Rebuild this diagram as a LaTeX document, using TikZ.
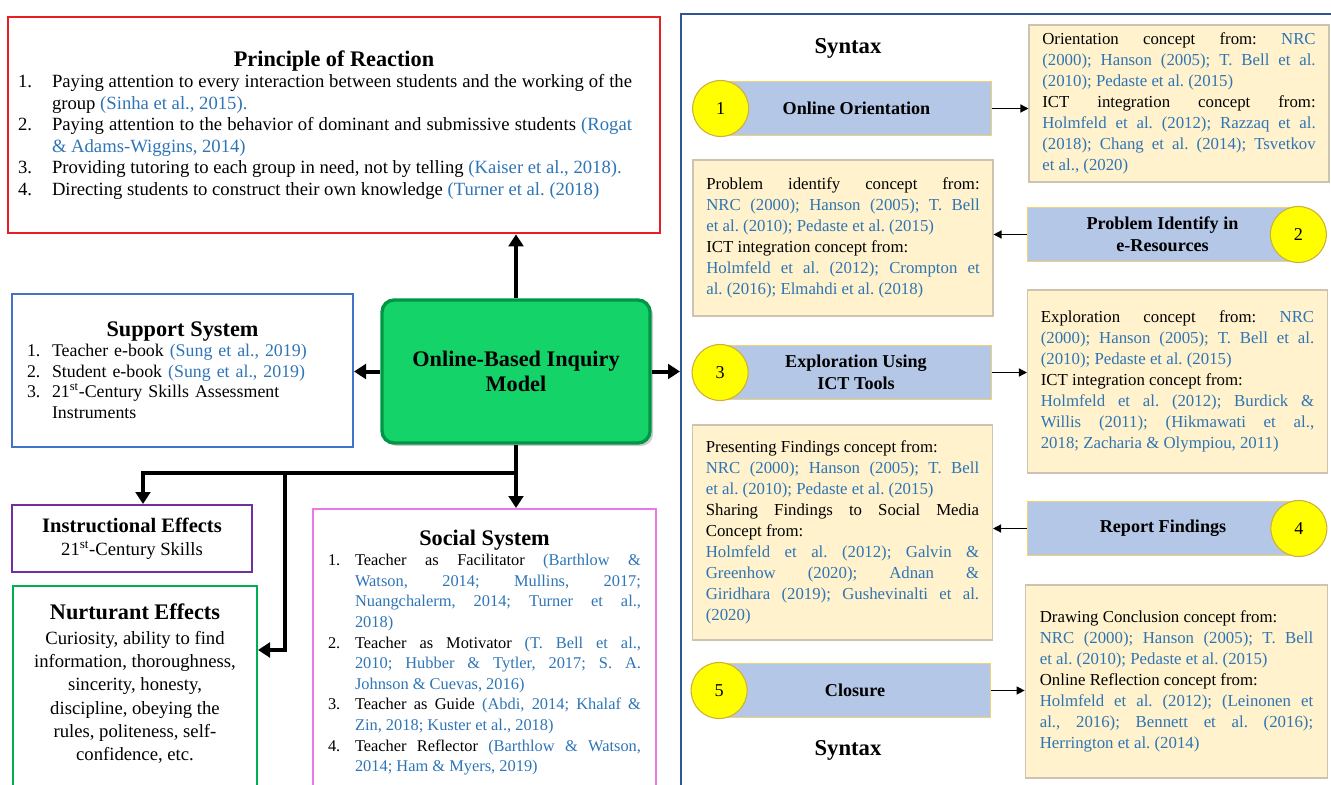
\documentclass[tikz,border=0pt]{standalone}
\usepackage{fontspec}
\setmainfont{Liberation Serif}
\usepackage{enumitem}
\usepackage{tikz}
\usetikzlibrary{positioning, arrows.meta, shadows}

\definecolor{CiteBlue}{RGB}{46,117,182}
\definecolor{ReactRed}{RGB}{232,30,37}
\definecolor{SupportBlue}{RGB}{68,114,196}
\definecolor{InstrPurple}{RGB}{112,48,160}
\definecolor{NurtGreen}{RGB}{0,176,80}
\definecolor{SocialPink}{RGB}{235,120,235}
\definecolor{SyntaxBlue}{RGB}{47,85,151}
\definecolor{ModelGreen}{RGB}{20,212,105}
\definecolor{ModelEdge}{RGB}{0,150,70}
\definecolor{BarBlue}{RGB}{180,199,231}
\definecolor{BarEdge}{RGB}{240,210,110}
\definecolor{DotYellow}{RGB}{255,255,0}
\definecolor{DotEdge}{RGB}{205,175,60}
\definecolor{ConceptFill}{RGB}{255,242,204}
\definecolor{ConceptEdge}{RGB}{205,195,175}

\setlist[enumerate]{nosep, label=\arabic*., align=left, labelsep=0pt, labelindent=0pt, itemindent=0pt}
\frenchspacing

\tikzset{Frame/.style={%
    shape=rectangle,%
    line width=1.5pt,%
    inner sep=0pt,%
}}
\tikzset{ModelBox/.style={%
    shape=rectangle,%
    rounded corners=9pt,%
    draw=ModelEdge,%
    fill=ModelGreen,%
    line width=2.5pt,%
    drop shadow={opacity=0.4},%
    minimum width=201pt,%
    minimum height=107.25pt,%
    align=center,%
    font=\fontsize{16.7}{18.75}\selectfont\bfseries,%
}}
\tikzset{StepBar/.style={%
    shape=rectangle,%
    draw=BarEdge,%
    fill=BarBlue,%
    line width=0.8pt,%
    minimum width=203pt,%
    minimum height=40.5pt,%
    align=center,%
    font=\fontsize{13.6}{16.5}\selectfont\bfseries,%
}}
\tikzset{StepDot/.style={%
    shape=circle,%
    draw=DotEdge,%
    fill=DotYellow,%
    minimum size=42pt,%
    inner sep=0pt,%
    line width=0.8pt,%
    font=\fontsize{13.6}{16}\selectfont,%
}}
\tikzset{ConceptBox/.style={%
    shape=rectangle,%
    draw=ConceptEdge,%
    fill=ConceptFill,%
    line width=0.8pt,%
    minimum width=225pt,%
    text width=205pt,%
    align=justify,%
    font=\fontsize{12.6}{15.75}\selectfont,%
}}
\tikzset{SyntaxLabel/.style={%
    font=\fontsize{17}{20}\selectfont\bfseries,%
    inner sep=0pt,%
}}
\tikzset{BigArrow/.style={%
    -{Triangle[length=9pt,width=11pt]},%
    line width=3pt,%
}}
\tikzset{SmallArrow/.style={%
    -{Triangle[length=6pt,width=6pt]},%
    line width=1pt,%
}}
\NewDocumentCommand{\refText}{m}{\textcolor{CiteBlue}{#1}}
\NewDocumentCommand{\boxTitle}{O{16.7} m}{{\fontsize{#1}{#1}\selectfont\bfseries #2}}

\begin{document}
\begin{tikzpicture}[x=0.75pt, y=-0.75pt, every node/.append style={execute at begin node=\frenchspacing}]
    \useasboundingbox (0,0) rectangle (1331,785);
    \clip (0,0) rectangle (1331,785);

    % model elements
    \node[Frame, draw=ReactRed, line width=2pt, minimum width=489pt, minimum height=162pt,
          text width=474pt, align=justify, font=\fontsize{14}{16.1}\selectfont] (react) at (334,125) {%
        {\centering\boxTitle{Principle of Reaction}\par}
        \begin{enumerate}[leftmargin=25.5pt, labelwidth=25.5pt, rightmargin=13.5pt]
            \item Paying attention to every interaction between students and the working of the\linebreak group \refText{(Sinha et al., 2015).}
            \item Paying attention to the behavior of dominant and submissive students \refText{(Rogat\linebreak \& Adams-Wiggins, 2014)}
            \item Providing tutoring to each group in need, not by telling \refText{(Kaiser et al., 2018).}
            \item Directing students to construct their own knowledge \refText{(Turner et al. (2018)}
        \end{enumerate}};
    \node[Frame, draw=SupportBlue, minimum width=255.75pt, minimum height=114.75pt,
          text width=233.25pt, align=left, font=\fontsize{13.4}{15.4}\selectfont] (support) at (182.5,370) {%
        {\centering\boxTitle{Support System}\par}
        \begin{enumerate}[leftmargin=18.75pt, labelwidth=18.75pt, rightmargin=8pt]
            \item Teacher e-book \refText{(Sung et al., 2019)}
            \item Student e-book \refText{(Sung et al., 2019)}
            \item 21\textsuperscript{st}-Century Skills Assessment Instruments
        \end{enumerate}};
    \node[ModelBox] (model) at (516,371.5) {Online-Based Inquiry\\Model};
    \node[Frame, draw=InstrPurple, minimum width=180pt, minimum height=50.25pt,
          align=center, font=\fontsize{14}{17.25}\selectfont] (instr) at (132,538.5) {%
        \boxTitle[15.4]{Instructional Effects}\\21\textsuperscript{st}-Century Skills};
    \node[Frame, draw=NurtGreen, anchor=north west, minimum width=183pt, minimum height=165pt] (nurt) at (12,585) {};
    \node[inner sep=0pt, align=center, font=\fontsize{14}{17.5}\selectfont, below=14pt of nurt.north] (nurtText) {%
        \boxTitle{Nurturant Effects}\\[1pt]
        Curiosity, ability to find\\
        information, thoroughness,\\
        sincerity, honesty,\\
        discipline, obeying the\\
        rules, politeness, self-\\
        confidence, etc.};
    \node[Frame, draw=SocialPink, anchor=north west, minimum width=257.25pt, minimum height=225pt] (social) at (312,508) {};
    \node[inner sep=0pt, text width=234.75pt, align=justify, font=\fontsize{12.3}{15.45}\selectfont,
          below=16pt of social.north] (socialText) {%
        {\centering\boxTitle{Social System}\par}
        \begin{enumerate}[leftmargin=20.25pt, labelwidth=20.25pt]
            \item Teacher as Facilitator \refText{(Barthlow \&\linebreak Watson, 2014; Mullins, 2017;\linebreak Nuangchalerm, 2014; Turner et al.,\linebreak 2018)}
            \item Teacher as Motivator \refText{(T. Bell et al.,\linebreak 2010; Hubber \& Tytler, 2017; S. A.\linebreak Johnson \& Cuevas, 2016)}
            \item Teacher as Guide \refText{(Abdi, 2014; Khalaf \&\linebreak Zin, 2018; Kuster et al., 2018)}
            \item Teacher Reflector \refText{(Barthlow \& Watson,\linebreak 2014; Ham \& Myers, 2019)}
        \end{enumerate}};

    % syntax panel
    \node[Frame, draw=SyntaxBlue, anchor=north west, minimum width=525pt, minimum height=600pt] (syntax) at (680,13) {};
    \node[SyntaxLabel] (syntaxTop) at (848,48) {Syntax};
    \node[SyntaxLabel] (syntaxBottom) at (848,750) {Syntax};

    \node[StepBar] (s1) at (856.5,108.5) {Online Orientation};
    \node[StepDot] (d1) at (s1.west) {1};
    \node[StepBar] (s2) at (1162.5,234.5) {Problem Identify in\\e-Resources};
    \node[StepDot] (d2) at (s2.east) {2};
    \node[StepBar] (s3) at (856,372.5) {Exploration Using\\ICT Tools};
    \node[StepDot] (d3) at (s3.west) {3};
    \node[StepBar] (s4) at (1163,528.5) {Report Findings};
    \node[StepDot] (d4) at (s4.east) {4};
    \node[StepBar] (s5) at (855,690.5) {Closure};
    \node[StepDot] (d5) at (s5.west) {5};

    \node[ConceptBox, minimum height=117.75pt] (c1) at (1179,103.5) {%
        Orientation concept from: \refText{NRC\linebreak (2000); Hanson (2005); T. Bell et al.\linebreak (2010); Pedaste et al. (2015)}\newline
        ICT integration concept from:\linebreak \refText{Holmfeld et al. (2012); Razzaq et al.\linebreak (2018); Chang et al. (2014); Tsvetkov\linebreak et al., (2020)}};
    \node[ConceptBox, minimum height=117pt] (c2) at (843,238) {%
        Problem identify concept from:\linebreak \refText{NRC (2000); Hanson (2005); T. Bell\linebreak et al. (2010); Pedaste et al. (2015)}\newline
        ICT integration concept from:\newline \refText{Holmfeld et al. (2012); Crompton et\linebreak al. (2016); Elmahdi et al. (2018)}};
    \node[ConceptBox, minimum height=137.25pt] (c3) at (1177.5,381.5) {%
        Exploration concept from: \refText{NRC\linebreak (2000); Hanson (2005); T. Bell et al.\linebreak (2010); Pedaste et al. (2015)}\newline
        ICT integration concept from:\newline \refText{Holmfeld et al. (2012); Burdick \&\linebreak Willis (2011); (Hikmawati et al.,\linebreak 2018; Zacharia \& Olympiou, 2011)}};
    \node[ConceptBox, minimum height=161.25pt] (c4) at (842.5,532.5) {%
        Presenting Findings concept from:\newline \refText{NRC (2000); Hanson (2005); T. Bell\linebreak et al. (2010); Pedaste et al. (2015)}\newline
        Sharing Findings to Social Media\linebreak Concept from:\newline
        \refText{Holmfeld et al. (2012); Galvin \&\linebreak Greenhow (2020); Adnan \&\linebreak Giridhara (2019); Gushevinalti et al.\linebreak (2020)}};
    \node[ConceptBox, minimum height=144.75pt, minimum width=227pt] (c5) at (1176.5,681.5) {%
        Drawing Conclusion concept from:\newline \refText{NRC (2000); Hanson (2005); T. Bell\linebreak et al. (2010); Pedaste et al. (2015)}\newline
        Online Reflection concept from:\newline \refText{Holmfeld et al. (2012); (Leinonen et\linebreak al., 2016); Bennett et al. (2016);\linebreak Herrington et al. (2014)}};

    % connectors
    \coordinate (fork) at (516,473);
    \coordinate (forkLeft) at (143,473);
    \coordinate (forkMid) at (285,473);
    \coordinate (nurtBend) at (285,650);

    \path (model.north) edge[BigArrow] (model.north |- react.south);
    \path (model.west) edge[BigArrow] (model.west -| support.east);
    \path (model.east) edge[BigArrow] (model.east -| syntax.west);
    \draw[BigArrow] (model.south) |- (forkLeft) -- (forkLeft |- instr.north);
    \draw[BigArrow] (fork) -- (fork |- social.north);
    \draw[BigArrow] (forkMid) -- (nurtBend) -- (nurtBend -| nurt.east);

    \path (s1.east) edge[SmallArrow] (s1.east -| c1.west);
    \path (s2.west) edge[SmallArrow] (s2.west -| c2.east);
    \path (s3.east) edge[SmallArrow] (s3.east -| c3.west);
    \path (s4.west) edge[SmallArrow] (s4.west -| c4.east);
    \path (s5.east) edge[SmallArrow] (s5.east -| c5.west);
\end{tikzpicture}
\end{document}
